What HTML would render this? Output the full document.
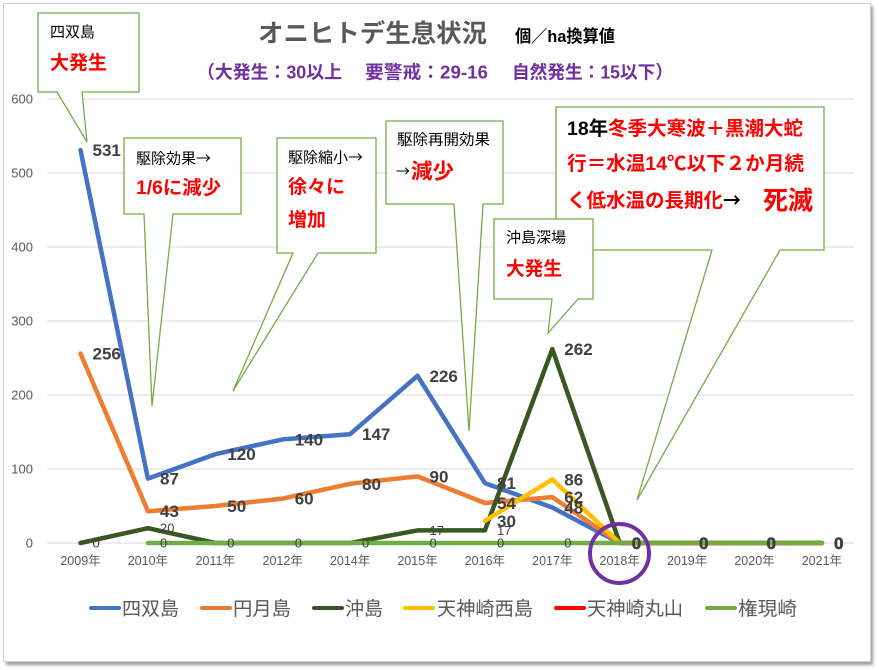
<!DOCTYPE html>
<html><head><meta charset="utf-8">
<style>
html,body{margin:0;padding:0;background:#fff;}
svg{display:block;font-family:"Liberation Sans","Noto Sans CJK JP",sans-serif;}
</style></head>
<body>
<svg width="879" height="670" viewBox="0 0 879 670" xmlns="http://www.w3.org/2000/svg">
<defs>
<filter id="sh" x="-5%" y="-5%" width="110%" height="110%"><feGaussianBlur stdDeviation="1.5"/></filter>
</defs>
<rect x="0" y="0" width="879" height="670" fill="#fff"/>
<!-- frame shadow -->
<rect x="6" y="6" width="867" height="659" fill="#9a9a9a" filter="url(#sh)"/>
<rect x="3.5" y="3.5" width="867" height="658" fill="#fff" stroke="#d0d0d0" stroke-width="1"/>

<!-- gridlines -->
<g stroke="#D9D9D9" stroke-width="1">
<line x1="47" y1="99" x2="854" y2="99"/>
<line x1="47" y1="173" x2="854" y2="173"/>
<line x1="47" y1="247" x2="854" y2="247"/>
<line x1="47" y1="321" x2="854" y2="321"/>
<line x1="47" y1="395" x2="854" y2="395"/>
<line x1="47" y1="469" x2="854" y2="469"/>
<line x1="47" y1="543" x2="854" y2="543"/>
</g>

<!-- y axis labels -->
<g font-size="13" fill="#595959" text-anchor="end">
<text x="33" y="103.5">600</text>
<text x="33" y="177.5">500</text>
<text x="33" y="251.5">400</text>
<text x="33" y="325.5">300</text>
<text x="33" y="399.5">200</text>
<text x="33" y="473.5">100</text>
<text x="33" y="547.5">0</text>
</g>

<!-- x axis labels -->
<g font-size="12.5" fill="#595959" text-anchor="middle">
<text x="80.5" y="565">2009年</text>
<text x="147.9" y="565">2010年</text>
<text x="215.3" y="565">2011年</text>
<text x="282.7" y="565">2012年</text>
<text x="350.1" y="565">2014年</text>
<text x="417.5" y="565">2015年</text>
<text x="484.9" y="565">2016年</text>
<text x="552.3" y="565">2017年</text>
<text x="619.7" y="565">2018年</text>
<text x="687.1" y="565">2019年</text>
<text x="754.5" y="565">2020年</text>
<text x="821.9" y="565">2021年</text>
</g>

<!-- series -->
<g fill="none" stroke-width="4.5" stroke-linejoin="round" stroke-linecap="round">
<polyline stroke="#4472C4" points="80.5,150.1 147.9,478.6 215.3,454.2 282.7,439.4 350.1,434.2 417.5,375.8 484.9,483.1 552.3,507.5 619.7,543 821.9,543"/>
<polyline stroke="#ED7D31" points="80.5,353.6 147.9,511.2 215.3,506 282.7,498.6 350.1,483.8 417.5,476.4 484.9,503 552.3,497.1 619.7,543 821.9,543"/>
<polyline stroke="#385723" points="80.5,543 147.9,528.2 215.3,543 350.1,543 417.5,530.4 484.9,530.4 552.3,349.1 619.7,543 821.9,543"/>
<polyline stroke="#FFC000" points="484.9,520.8 552.3,479.4 619.7,543 821.9,543"/>
<polyline stroke="#FF0000" points="619.7,543 821.9,543"/>
<polyline stroke="#70AD47" points="147.9,543 821.9,543"/>
</g>

<!-- small data labels -->
<g font-size="13" fill="#404040">
<text x="92.5" y="547.5">0</text>
<text x="160" y="532.7">20</text>
<text x="160" y="547.5">0</text>
<text x="227.3" y="547.5">0</text>
<text x="294.7" y="547.5">0</text>
<text x="362" y="547.5">0</text>
<text x="429.5" y="535">17</text>
<text x="429.5" y="547.5">0</text>
<text x="497" y="535">17</text>
<text x="497" y="547.5">0</text>
<text x="564.3" y="547.5">0</text>
</g>

<!-- bold data labels -->
<g font-size="17" font-weight="bold" fill="#404040">
<text x="92.5" y="156">531</text>
<text x="160" y="484.6">87</text>
<text x="227.3" y="460">120</text>
<text x="294.7" y="445.4">140</text>
<text x="362" y="440">147</text>
<text x="429.5" y="382">226</text>
<text x="497" y="489">81</text>
<text x="564.3" y="513.5">48</text>
<text x="92.5" y="359.6">256</text>
<text x="160" y="517">43</text>
<text x="227.3" y="512">50</text>
<text x="294.7" y="504.6">60</text>
<text x="362" y="490">80</text>
<text x="429.5" y="482.4">90</text>
<text x="497" y="509">54</text>
<text x="564.3" y="503">62</text>
<text x="564.3" y="355">262</text>
<text x="497" y="527">30</text>
<text x="564.3" y="485.4">86</text>
</g>
<g font-size="17" font-weight="bold" fill="#404040" stroke="#404040" stroke-width="0.6">
<text x="631.7" y="549">0</text>
<text x="699" y="549">0</text>
<text x="766.5" y="549">0</text>
<text x="834" y="549">0</text>
</g>

<!-- title -->
<text x="258" y="42" font-size="25" font-weight="bold" fill="#595959" textLength="229" lengthAdjust="spacingAndGlyphs">オニヒトデ生息状況</text>
<text x="515" y="42" font-size="17" font-weight="bold" fill="#000" textLength="100" lengthAdjust="spacingAndGlyphs">個／ha換算値</text>
<g font-size="18" font-weight="bold" fill="#7030A0">
<text x="197" y="78.5" textLength="145" lengthAdjust="spacingAndGlyphs">（大発生：30以上</text>
<text x="365" y="78.5" textLength="123" lengthAdjust="spacingAndGlyphs">要警戒：29-16</text>
<text x="512" y="78.5" textLength="161" lengthAdjust="spacingAndGlyphs">自然発生：15以下）</text>
</g>

<!-- callouts -->
<g fill="#fff" stroke="#70AD47" stroke-width="1.3" stroke-linejoin="miter">
<path d="M38,13 H139 V92 H82 L87,142 L57,92 H38 Z"/>
<path d="M124,138 H241 V214 H173 L152,406 L144,214 H124 Z"/>
<path d="M277,138 H376 V253 H318 L233,391 L293,253 H277 Z"/>
<path d="M386,121 H503 V204 H483 L469,431 L454,204 H386 Z"/>
<path d="M556,107 H824 V250 H780 L637,500 L712,250 H556 Z"/>
<path d="M494,219 H593 V299 H578 L548,333 L552,299 H494 Z"/>
</g>

<!-- callout texts -->
<g font-size="15" fill="#000" style="font-family:'Noto Sans CJK JP','Liberation Sans',sans-serif">
<text x="50" y="37" textLength="45" lengthAdjust="spacingAndGlyphs">四双島</text>
<text x="136" y="163.5" textLength="75" lengthAdjust="spacingAndGlyphs">駆除効果→</text>
<text x="288" y="162.5" textLength="75" lengthAdjust="spacingAndGlyphs">駆除縮小→</text>
<text x="397" y="144.5" textLength="93" lengthAdjust="spacingAndGlyphs">駆除再開効果</text>
<text x="396" y="176.5" textLength="14" lengthAdjust="spacingAndGlyphs">→</text>
<text x="506" y="242.5" textLength="60" lengthAdjust="spacingAndGlyphs">沖島深場</text>
</g>
<g font-size="19" font-weight="bold" fill="#FF0000">
<text x="50" y="69" textLength="57" lengthAdjust="spacingAndGlyphs">大発生</text>
<text x="136" y="194" textLength="85" lengthAdjust="spacingAndGlyphs">1/6に減少</text>
<text x="288" y="193" textLength="57" lengthAdjust="spacingAndGlyphs">徐々に</text>
<text x="288" y="226" textLength="38" lengthAdjust="spacingAndGlyphs">増加</text>
<text x="411" y="178.5" font-size="21" textLength="43" lengthAdjust="spacingAndGlyphs">減少</text>
<text x="506" y="275" textLength="56" lengthAdjust="spacingAndGlyphs">大発生</text>
</g>
<g font-size="19.5" font-weight="bold" fill="#FF0000">
<text x="567" y="135" textLength="236" lengthAdjust="spacingAndGlyphs"><tspan fill="#000">18年</tspan>冬季大寒波＋黒潮大蛇</text>
<text x="567" y="170" textLength="237" lengthAdjust="spacingAndGlyphs">行＝水温14℃以下２か月続</text>
<text x="567" y="207" textLength="156" lengthAdjust="spacingAndGlyphs">く低水温の長期化</text>
<text x="723" y="207" fill="#000" textLength="18" lengthAdjust="spacingAndGlyphs" style="font-family:'Noto Sans CJK JP',sans-serif">→</text>
<text x="763" y="209.5" font-size="26" textLength="50" lengthAdjust="spacingAndGlyphs">死滅</text>
</g>

<!-- purple circle -->
<circle cx="619.5" cy="553.5" r="29.5" fill="none" stroke="#7030A0" stroke-width="4"/>

<!-- legend -->
<g stroke-width="4" stroke-linecap="round">
<line x1="91" y1="608" x2="119" y2="608" stroke="#4472C4"/>
<line x1="202" y1="608" x2="230" y2="608" stroke="#ED7D31"/>
<line x1="314" y1="608" x2="342" y2="608" stroke="#385723"/>
<line x1="405" y1="608" x2="433" y2="608" stroke="#FFC000"/>
<line x1="556" y1="608" x2="584" y2="608" stroke="#FF0000"/>
<line x1="707" y1="608" x2="735" y2="608" stroke="#70AD47"/>
</g>
<g font-size="19" fill="#595959">
<text x="122" y="615" textLength="57" lengthAdjust="spacingAndGlyphs">四双島</text>
<text x="233" y="615" textLength="58" lengthAdjust="spacingAndGlyphs">円月島</text>
<text x="345" y="615" textLength="38" lengthAdjust="spacingAndGlyphs">沖島</text>
<text x="437" y="615" textLength="96" lengthAdjust="spacingAndGlyphs">天神崎西島</text>
<text x="587" y="615" textLength="96" lengthAdjust="spacingAndGlyphs">天神崎丸山</text>
<text x="738" y="615" textLength="59" lengthAdjust="spacingAndGlyphs">権現崎</text>
</g>
</svg>
</body></html>
